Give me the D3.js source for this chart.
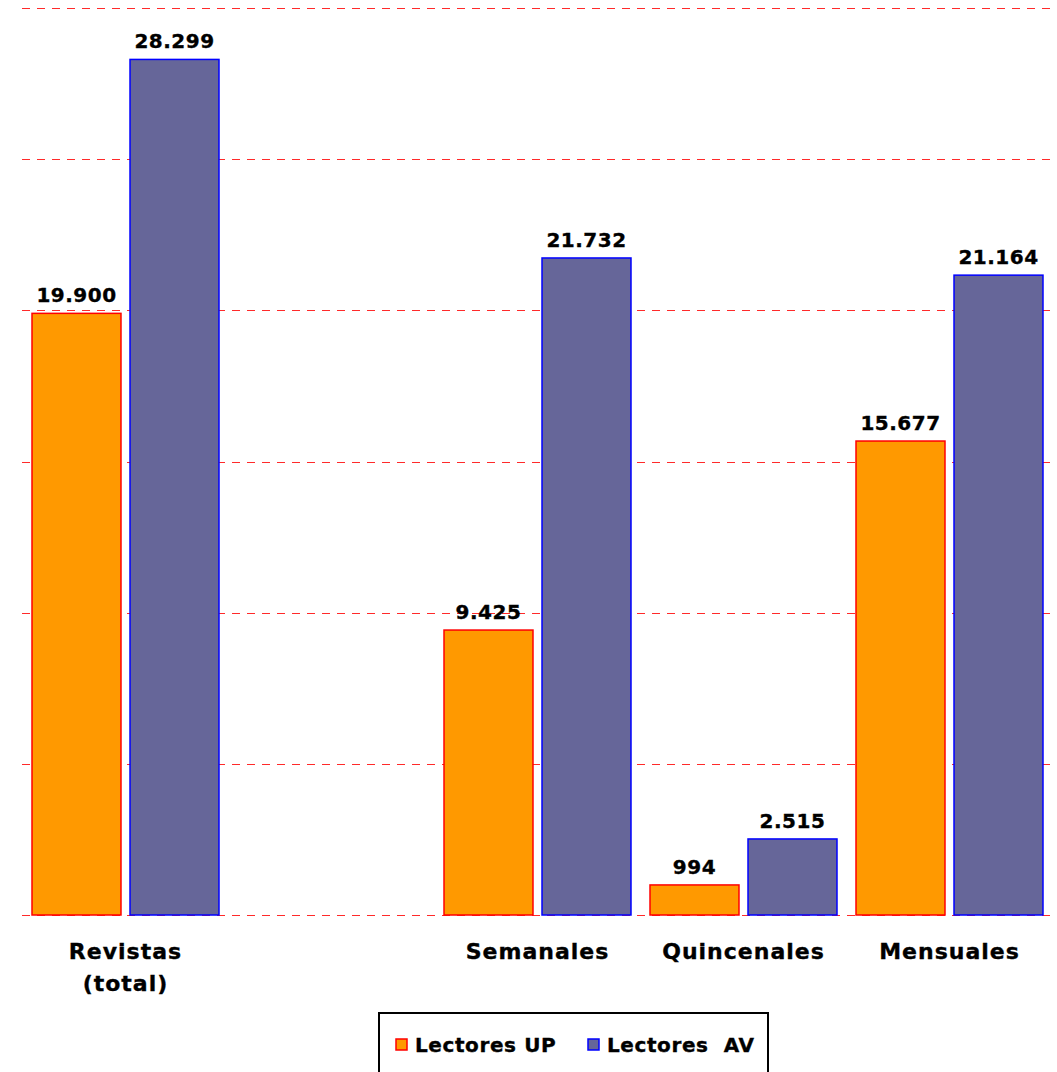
<!DOCTYPE html>
<html><head><meta charset="utf-8">
<script src="https://cdn.jsdelivr.net/npm/d3@7"></script>
<style>body{margin:0;background:#fff}svg{display:block}text{font-family:"DejaVu Sans",Verdana,sans-serif;font-weight:bold;stroke:#000;stroke-width:0.35px}</style>
</head><body>
<script>
const categories = [["Revistas","(total)"], [""], ["Semanales"], ["Quincenales"], ["Mensuales"]];
const categoryKeys = ["Revistas (total)", "_blank", "Semanales", "Quincenales", "Mensuales"];
const seriesNames = ["Lectores UP", "Lectores  AV"];
const lectoresUP = [19900, null, 9425, 994, 15677];
const lectoresAV = [28299, null, 21732, 2515, 21164];
const valueLabelsUP = ["19.900", null, "9.425", "994", "15.677"];
const valueLabelsAV = ["28.299", null, "21.732", "2.515", "21.164"];
const yTicks = [0, 5000, 10000, 15000, 20000, 25000, 30000];

const W = 1057, H = 1072;
const svg = d3.select("body").append("svg").attr("width", W).attr("height", H);

const x = d3.scaleBand().domain(categoryKeys).range([22.5, 1052.5]);
const xs = d3.scaleBand().domain(seriesNames).range([0, x.bandwidth()]).paddingInner(0.092).paddingOuter(0.097);
const y = d3.scaleLinear().domain([0, 30000]).range([915, 8]);

// gridlines
svg.append("g").selectAll("line").data(yTicks).join("line")
  .attr("x1", 22).attr("x2", 1053)
  .attr("y1", d => Math.round(y(d)) + 0.5).attr("y2", d => Math.round(y(d)) + 0.5)
  .attr("stroke", "#ff2a2a").attr("stroke-width", 1).attr("stroke-dasharray", "8,7");

const series = [
  {name: seriesNames[0], values: lectoresUP, labels: valueLabelsUP, fill: "#ff9900", stroke: "#ff0000"},
  {name: seriesNames[1], values: lectoresAV, labels: valueLabelsAV, fill: "#666699", stroke: "#0000ff"}
];

series.forEach(s => {
  const data = categoryKeys.map((k, i) => ({k, v: s.values[i], l: s.labels[i]})).filter(d => d.v != null);
  svg.append("g").selectAll("rect").data(data).join("rect")
    .attr("x", d => x(d.k) + xs(s.name))
    .attr("y", d => y(d.v))
    .attr("width", xs.bandwidth())
    .attr("height", d => y(0) - y(d.v))
    .attr("fill", s.fill).attr("stroke", s.stroke).attr("stroke-width", 1.5);
  svg.append("g").selectAll("text").data(data).join("text")
    .attr("x", d => x(d.k) + xs(s.name) + xs.bandwidth() / 2)
    .attr("y", d => y(d.v) - 11)
    .attr("text-anchor", "middle").attr("font-size", 20).attr("letter-spacing", 0.5).attr("fill", "#000")
    .text(d => d.l);
});

// category labels
categoryKeys.forEach((k, i) => {
  const t = svg.append("text").attr("x", x(k) + x.bandwidth() / 2).attr("y", 959)
    .attr("text-anchor", "middle").attr("font-size", 22).attr("letter-spacing", 1).attr("fill", "#000");
  categories[i].forEach((line, j) => {
    t.append("tspan").attr("x", x(k) + x.bandwidth() / 2).attr("dy", j === 0 ? 0 : 32).text(line);
  });
});

// legend
const lg = svg.append("g");
lg.append("rect").attr("x", 379).attr("y", 1013).attr("width", 389).attr("height", 70)
  .attr("fill", "#fff").attr("stroke", "#000").attr("stroke-width", 2);
const legendX = [396, 588];
series.forEach((s, i) => {
  lg.append("rect").attr("x", legendX[i]).attr("y", 1039).attr("width", 11).attr("height", 11)
    .attr("fill", s.fill).attr("stroke", s.stroke).attr("stroke-width", 1.5);
  lg.append("text").attr("x", legendX[i] + 19).attr("y", 1052).attr("font-size", 20).attr("letter-spacing", 0.6)
    .attr("fill", "#000").style("white-space", "pre").text(s.name);
});
</script>
</body></html>
